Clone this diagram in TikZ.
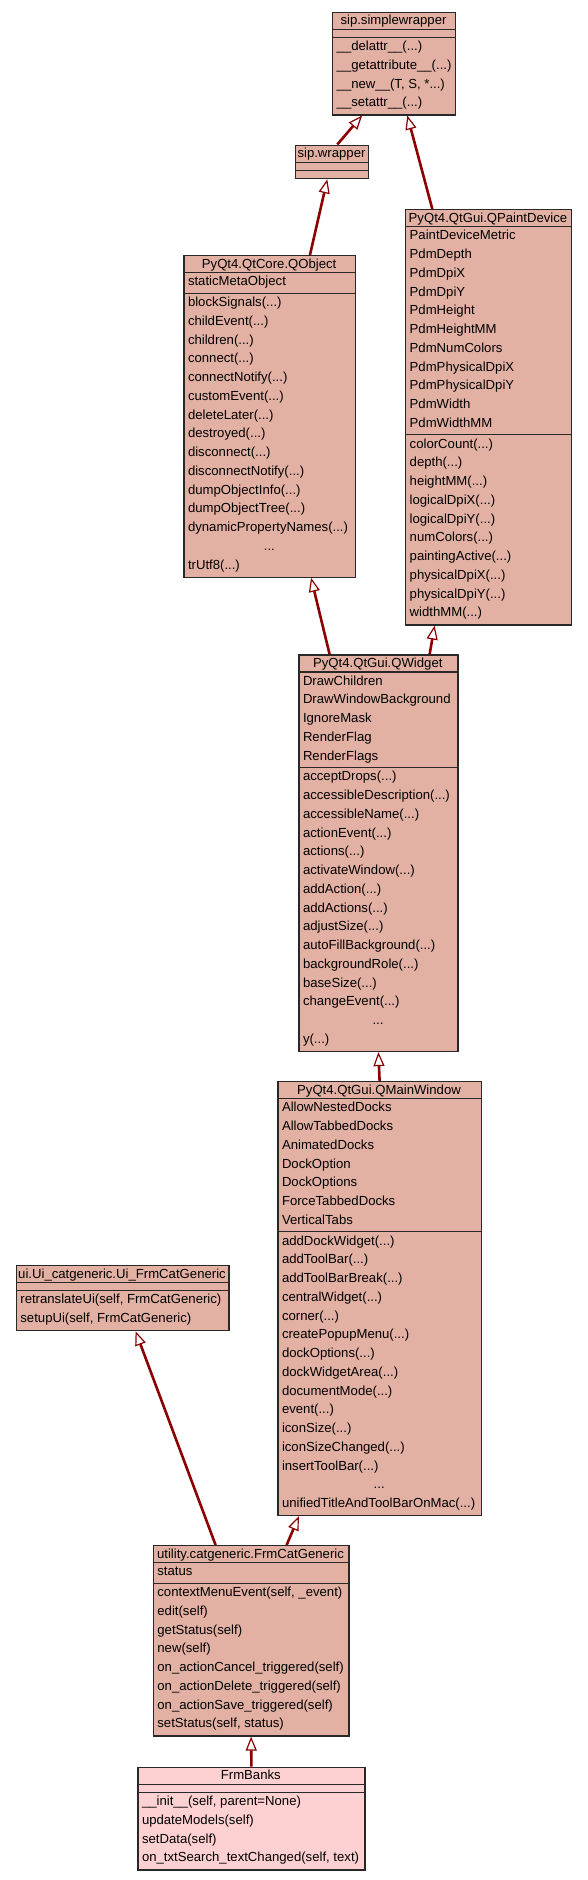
\documentclass[tikz,border=0pt]{standalone}
\usepackage{fontspec}
\setmainfont{Liberation Sans}
\usetikzlibrary{arrows.meta}

\definecolor{classfill}{RGB}{227,177,163}
\definecolor{focusfill}{RGB}{253,208,209}
\definecolor{classedge}{RGB}{40,40,40}
\definecolor{inherit}{RGB}{139,0,0}

\newcommand{\mdots}{...}
\newdimen\rowwidth
\newcommand{\dotsrow}{\hbox to\rowwidth{\hss...\hss}}

% name, x, y, width, title, attrs, methods, attr list, method list
\newcommand{\umlclass}[9]{%
  \pgfmathsetmacro\attrh{#6==0 ? 8 : #6*18.75+2}
  \pgfmathsetmacro\methh{#7==0 ? 8 : #7*18.75+2}
  \pgfmathsetmacro\ya{#3+17.6}
  \pgfmathsetmacro\yb{\ya+\attrh}
  \pgfmathsetmacro\boxh{17.6+\attrh+\methh}
  \pgfmathsetlength\rowwidth{#4-9}
  \node[classbox, anchor=north west, minimum width=#4, minimum height=\boxh] (#1) at (#2,#3) {};
  \draw[classedge, line width=1.2pt] (#2,\ya) -- +(#4,0) (#2,\yb) -- +(#4,0);
  \node[member, anchor=base] at (#2+#4/2,#3+13) {#5};
  \foreach \m [count=\i from 0] in {#8} {
    \pgfmathsetmacro\yy{\ya+13.2+\i*18.75}
    \node[member, anchor=base west] at (#2+4.5,\yy) {\m};
  }
  \foreach \m [count=\i from 0] in {#9} {
    \pgfmathsetmacro\yy{\yb+13.2+\i*18.75}
    \node[member, anchor=base west] at (#2+4.5,\yy) {\m};
  }
}

\begin{document}
\begin{tikzpicture}[x=1pt, y=-1pt,
	classbox/.style={draw=classedge, fill=classfill, line width=1.2pt, inner sep=0pt},
	member/.style={inner sep=0pt, font=\fontsize{13.15}{15}\selectfont},
	extends/.style={draw=inherit, line width=2.6pt,
		-{Triangle[length=14pt, width=11pt, fill=white, line width'=1.2pt]}}]
	\useasboundingbox (0,0) rectangle (587,1880);
	\fill[white] (0,0) rectangle (587,1880);

	\umlclass{simplewrapper}{332}{11.7}{123}{sip.simplewrapper}{0}{4}{}
		{\_\_delattr\_\_(\mdots), \_\_getattribute\_\_(\mdots), {\_\_new\_\_(T, S, *\mdots)}, \_\_setattr\_\_(\mdots)}
	\umlclass{wrapper}{295}{144.5}{73}{sip.wrapper}{0}{0}{}{}
	\umlclass{paintdevice}{405}{209}{166}{PyQt4.QtGui.QPaintDevice}{11}{10}
		{PaintDeviceMetric, PdmDepth, PdmDpiX, PdmDpiY, PdmHeight, PdmHeightMM, PdmNumColors,
		 PdmPhysicalDpiX, PdmPhysicalDpiY, PdmWidth, PdmWidthMM}
		{colorCount(\mdots), depth(\mdots), heightMM(\mdots), logicalDpiX(\mdots), logicalDpiY(\mdots),
		 numColors(\mdots), paintingActive(\mdots), physicalDpiX(\mdots), physicalDpiY(\mdots), widthMM(\mdots)}
	\umlclass{qobject}{183.3}{255}{171.7}{PyQt4.QtCore.QObject}{1}{15}
		{staticMetaObject}
		{blockSignals(\mdots), childEvent(\mdots), children(\mdots), connect(\mdots), connectNotify(\mdots),
		 customEvent(\mdots), deleteLater(\mdots), destroyed(\mdots), disconnect(\mdots), disconnectNotify(\mdots),
		 dumpObjectInfo(\mdots), dumpObjectTree(\mdots), dynamicPropertyNames(\mdots), \dotsrow, trUtf8(\mdots)}
	\umlclass{qwidget}{298.3}{654.3}{159}{PyQt4.QtGui.QWidget}{5}{15}
		{DrawChildren, DrawWindowBackground, IgnoreMask, RenderFlag, RenderFlags}
		{acceptDrops(\mdots), accessibleDescription(\mdots), accessibleName(\mdots), actionEvent(\mdots),
		 actions(\mdots), activateWindow(\mdots), addAction(\mdots), addActions(\mdots), adjustSize(\mdots),
		 autoFillBackground(\mdots), backgroundRole(\mdots), baseSize(\mdots), changeEvent(\mdots), \dotsrow, y(\mdots)}
	\umlclass{mainwindow}{277.3}{1081}{203.4}{PyQt4.QtGui.QMainWindow}{7}{15}
		{AllowNestedDocks, AllowTabbedDocks, AnimatedDocks, DockOption, DockOptions, ForceTabbedDocks, VerticalTabs}
		{addDockWidget(\mdots), addToolBar(\mdots), addToolBarBreak(\mdots), centralWidget(\mdots), corner(\mdots),
		 createPopupMenu(\mdots), dockOptions(\mdots), dockWidgetArea(\mdots), documentMode(\mdots), event(\mdots),
		 iconSize(\mdots), iconSizeChanged(\mdots), insertToolBar(\mdots), \dotsrow, unifiedTitleAndToolBarOnMac(\mdots)}
	\umlclass{uicat}{15.7}{1265}{212.6}{ui.Ui\_catgeneric.Ui\_FrmCatGeneric}{0}{2}{}
		{{retranslateUi(self, FrmCatGeneric)}, {setupUi(self, FrmCatGeneric)}}
	\umlclass{catgeneric}{152.7}{1545}{195.6}{utility.catgeneric.FrmCatGeneric}{1}{8}
		{status}
		{{contextMenuEvent(self, \_event)}, edit(self), getStatus(self), new(self),
		 on\_actionCancel\_triggered(self), on\_actionDelete\_triggered(self),
		 on\_actionSave\_triggered(self), {setStatus(self, status)}}
	\begin{scope}[classbox/.append style={fill=focusfill}]
	\umlclass{banks}{137.3}{1766.7}{227}{FrmBanks}{0}{4}{}
		{{\_\_init\_\_(self, parent=None)}, updateModels(self), setData(self), {on\_txtSearch\_textChanged(self, text)}}
	\end{scope}

	\draw[extends] ([xshift=5.2pt]wrapper.north) -- ([xshift=-32pt]simplewrapper.south);
	\draw[extends] ([xshift=-56.3pt]paintdevice.north) -- ([xshift=13.2pt]simplewrapper.south);
	\draw[extends] ([xshift=40.2pt]qobject.north) -- ([xshift=-4.8pt]wrapper.south);
	\draw[extends] ([xshift=-48.8pt]qwidget.north) -- ([xshift=41.3pt]qobject.south);
	\draw[extends] ([xshift=51.2pt]qwidget.north) -- ([xshift=-54pt]paintdevice.south);
	\draw[extends] (mainwindow.north) -- (qwidget.south);
	\draw[extends] ([xshift=35.5pt]catgeneric.north) -- ([xshift=-80.7pt]mainwindow.south);
	\draw[extends] ([xshift=-35.5pt]catgeneric.north) -- ([xshift=13pt]uicat.south);
	\draw[extends] (banks.north) -- (catgeneric.south);
\end{tikzpicture}
\end{document}
